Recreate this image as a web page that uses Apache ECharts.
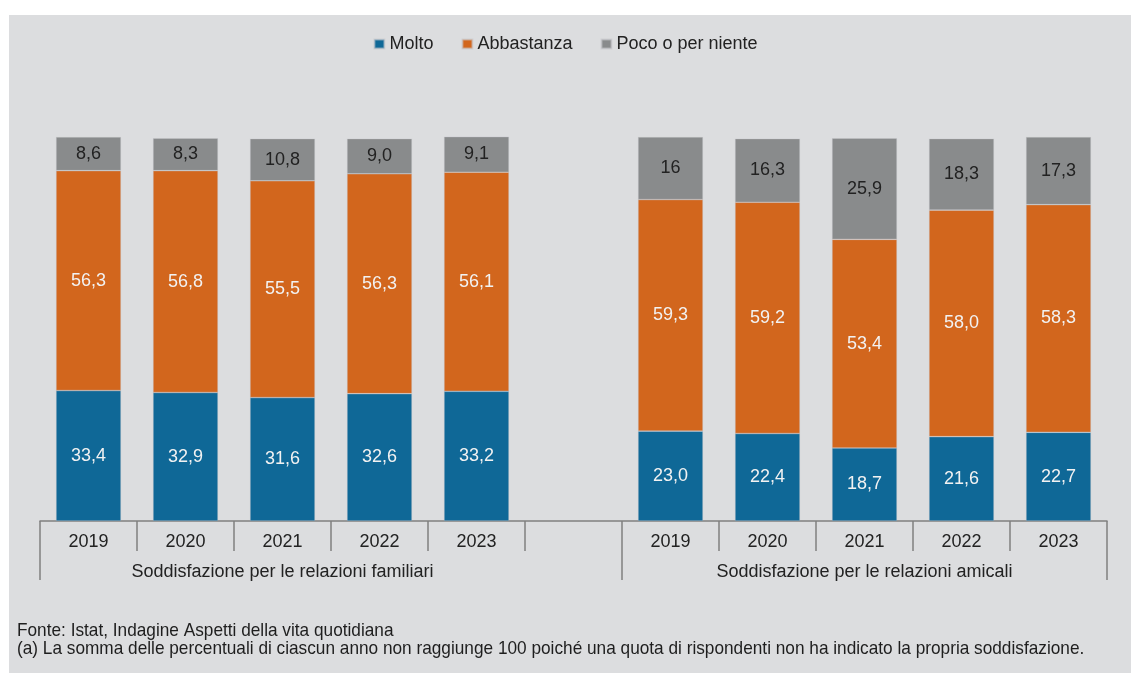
<!DOCTYPE html>
<html>
<head>
    <meta charset="utf-8">
    <title>Soddisfazione per le relazioni</title>
    <script src="https://cdn.jsdelivr.net/npm/echarts@6/dist/echarts.min.js"></script>
    <style>
        html, body { margin: 0; padding: 0; background: #fff; }
    </style>
</head>
<body>
<div id="main" style="width:1131px;height:673px"></div>
<script type="text/javascript">
    // anni per gruppo (lo slot centrale resta vuoto come separatore)
    var years = ['2019', '2020', '2021', '2022', '2023'];
    var groups = ['Soddisfazione per le relazioni familiari', 'Soddisfazione per le relazioni amicali'];

    // familiari
    var moltoFam = [33.4, 32.9, 31.6, 32.6, 33.2];
    var abbastanzaFam = [56.3, 56.8, 55.5, 56.3, 56.1];
    var pocoFam = [8.6, 8.3, 10.8, 9.0, 9.1];
    // amicali
    var moltoAmi = [23.0, 22.4, 18.7, 21.6, 22.7];
    var abbastanzaAmi = [59.3, 59.2, 53.4, 58.0, 58.3];
    var pocoAmi = [16, 16.3, 25.9, 18.3, 17.3];

    var categories = years.concat(['']).concat(years);

    function join(a, b) {
        return a.concat(['-']).concat(b);
    }

    function fmt(p) {
        if (p.value === '-' || p.value == null) return '';
        return Number(p.value).toFixed(1).replace('.', ',');
    }

    var pocoData = join(pocoFam, pocoAmi);
    // nel grafico originale il primo valore amicali e' scritto "16"
    pocoData[6] = { value: pocoAmi[0], label: { formatter: '16' } };

    var myChart = echarts.init(document.getElementById('main'));

    var barStyle = { borderColor: 'rgba(200,200,205,0.6)', borderWidth: 0.6 };
    var tickStyle = { color: '#808080', width: 1.5 };

    var option = {
        backgroundColor: '#ffffff',
        animation: false,
        textStyle: { fontFamily: 'Liberation Sans, Arial, sans-serif' },
        graphic: [
            {
                type: 'rect',
                z: -10,
                shape: { x: 9, y: 15, width: 1122, height: 658 },
                style: { fill: '#dcdddf' },
                silent: true
            },
            {
                type: 'text',
                x: 17,
                y: 622,
                scaleX: 0.907,
                style: {
                    text: 'Fonte: Istat, Indagine Aspetti della vita quotidiana\n(a) La somma delle percentuali di ciascun anno non raggiunge 100 poiché una quota di rispondenti non ha indicato la propria soddisfazione.',
                    font: '19px "Liberation Sans", Arial, sans-serif',
                    lineHeight: 18,
                    verticalAlign: 'top',
                    fill: '#1e1e1e'
                }
            }
        ],
        legend: {
            top: 30,
            left: 'center',
            itemWidth: 10,
            itemHeight: 9,
            itemGap: 28,
            icon: 'rect',
            textStyle: { fontSize: 18, color: '#222' },
            data: ['Molto', 'Abbastanza', 'Poco o per niente']
        },
        grid: {
            left: 40,
            right: 24,
            top: 130.4,
            bottom: 152,
            containLabel: false
        },
        xAxis: [
            {
                type: 'category',
                data: categories,
                boundaryGap: true,
                axisLine: { lineStyle: tickStyle },
                axisTick: { show: true, interval: 0, length: 30, lineStyle: tickStyle },
                axisLabel: { interval: 0, margin: 12, fontSize: 18, color: '#222' }
            },
            {
                type: 'value',
                position: 'bottom',
                min: 0,
                max: 11,
                splitLine: { show: false },
                axisLine: { show: false },
                axisTick: {
                    show: true,
                    length: 59,
                    customValues: [0, 6, 11],
                    lineStyle: tickStyle
                },
                axisLabel: {
                    margin: 42,
                    fontSize: 18,
                    color: '#222',
                    customValues: [2.5, 8.5],
                    formatter: function (v) {
                        return v < 5.5 ? groups[0] : groups[1];
                    }
                }
            }
        ],
        yAxis: {
            type: 'value',
            min: 0,
            max: 100,
            show: false
        },
        series: [
            {
                name: 'Molto',
                type: 'bar',
                stack: 'tot',
                barWidth: 65,
                data: join(moltoFam, moltoAmi),
                itemStyle: Object.assign({ color: '#0f6897' }, barStyle),
                label: { show: true, position: 'inside', fontSize: 18, color: '#f2f2f2', formatter: fmt }
            },
            {
                name: 'Abbastanza',
                type: 'bar',
                stack: 'tot',
                barWidth: 65,
                data: join(abbastanzaFam, abbastanzaAmi),
                itemStyle: Object.assign({ color: '#d2661d' }, barStyle),
                label: { show: true, position: 'inside', fontSize: 18, color: '#f2f2f2', formatter: fmt }
            },
            {
                name: 'Poco o per niente',
                type: 'bar',
                stack: 'tot',
                barWidth: 65,
                data: pocoData,
                itemStyle: Object.assign({ color: '#898b8c' }, barStyle),
                label: { show: true, position: 'inside', fontSize: 18, color: '#222', formatter: fmt }
            }
        ]
    };

    myChart.setOption(option);
</script>
</body>
</html>
